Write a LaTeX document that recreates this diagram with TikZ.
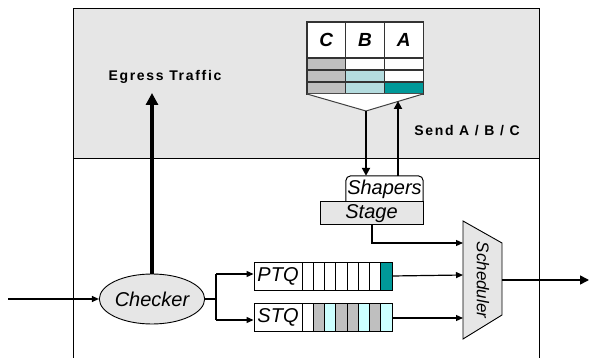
\documentclass[tikz,border=0pt]{standalone}
\usepackage{fontspec}
\setmainfont{Liberation Sans}
\newfontfamily\widefont[LetterSpace=12]{Liberation Sans}
\usetikzlibrary{arrows.meta, shapes.geometric}

\definecolor{bgdot}{HTML}{E6E6E6}
\definecolor{cellgray}{HTML}{BFBFBF}
\definecolor{paleteal}{HTML}{B4DCDF}
\definecolor{qteal}{HTML}{009999}
\definecolor{palecyan}{HTML}{CCFFFF}

\tikzset{
  frame/.style={draw=black, line width=1pt},
  tabline/.style={draw=black!80, line width=1.2pt},
  hdr/.style={tabline, fill=white, minimum width=38.7pt, minimum height=36pt,
    inner sep=0pt, font=\fontsize{19}{19}\selectfont\bfseries\itshape},
  lbl/.style={font=\fontsize{20}{20}\selectfont\itshape, inner sep=0pt},
  bold/.style={font=\fontsize{14}{14}\selectfont\widefont\bfseries, inner sep=0pt},
  qlabel/.style={draw=black, line width=0.9pt, fill=white, minimum width=48pt,
    minimum height=28pt, inner sep=0pt, font=\fontsize{20}{20}\selectfont\itshape},
  qcell/.style={draw=black, line width=0.9pt},
  conn/.style={line width=1.2pt, -{Triangle[length=7pt,width=6pt]}},
  thick conn/.style={line width=2.6pt, -{Triangle[length=8pt,width=8pt]}},
}

\begin{document}
\begin{tikzpicture}[x=1pt,y=-1pt]
\useasboundingbox (0,0) rectangle (590,358);

% enclosing frame: shaded upper part, open lower part
\fill[bgdot] (73,9) rectangle (539,159);
\draw[frame] (73,358) -- (73,9) -- (539,9) -- (539,358);
\draw[frame] (73,159) -- (539,159);

% class table
\node[hdr] (hC) at (326.35,40) {C};
\node[hdr] (hB) at (365.05,40) {B};
\node[hdr] (hA) at (403.75,40) {A};
\foreach \x/\a/\b/\c in {307/cellgray/cellgray/cellgray,
                         345.7/white/paleteal/paleteal,
                         384.4/white/white/qteal}{
  \draw[tabline, fill=\a] (\x,58) rectangle ++(38.7,12);
  \draw[tabline, fill=\b] (\x,70) rectangle ++(38.7,12);
  \draw[tabline, fill=\c] (\x,82) rectangle ++(38.7,12);
}
\coordinate (tl) at (307,94);
\coordinate (tr) at (423,94);
\coordinate (vtip) at (366,111);
\fill[white] (tl) -- (tr) -- (vtip) -- cycle;
\draw[black!75, line width=1pt] (tl) -- (vtip) -- (tr);

% labels
\node[bold] (egress) at (165,77) {Egress Traffic};
\node[bold] (send) at (467,131) {Send A / B / C};

% shapers and stage
\node[draw=none, minimum width=77pt, minimum height=26pt, inner sep=0pt]
  (shapers) at (384.5,189) {};
\filldraw[fill=white, draw=black, line width=1pt, rounded corners=5pt]
  (shapers.south west) |- (shapers.north) -| (shapers.south east);
\node[lbl] at (shapers.center) {Shapers};
\node[draw=black, line width=1pt, fill=bgdot, minimum width=103pt,
  minimum height=23pt, inner sep=0pt, font=\fontsize{20}{20}\selectfont\itshape]
  (stage) at (371.5,213.5) {Stage};

\draw[thick conn] (vtip) -- (vtip |- shapers.north);
\coordinate (up) at (398,101);
\draw[thick conn] (up |- shapers.north) -- (up);

% scheduler
\coordinate (sa) at (463,221);
\coordinate (sb) at (502,243);
\coordinate (sc) at (502,315);
\coordinate (sd) at (463,339);
\filldraw[fill=bgdot, draw=black, line width=0.9pt] (sa) -- (sb) -- (sc) -- (sd) -- cycle;
\node[rotate=-90, inner sep=0pt, font=\fontsize{17}{17}\selectfont\itshape]
  (sched) at (483,280) {Scheduler};
\coordinate (in1) at (463,243);
\coordinate (in2) at (463,275);
\coordinate (in3) at (463,318);
\coordinate (sout) at (502,280);
\coordinate (exit) at (589,280);

% checker
\node[draw=black, line width=0.9pt, fill=bgdot, ellipse, minimum width=86pt,
  minimum height=50pt, inner sep=0pt, font=\fontsize{20}{20}\selectfont\itshape]
  (checker) at (152,299) {Checker};
\coordinate (src) at (8,299);

% queues
\node[qlabel] (ptq) at (278,276) {PTQ};
\node[qlabel] (stq) at (278,317.5) {STQ};
\foreach \i/\c in {0/white,1/white,2/white,3/white,4/white,5/white,6/white,7/qteal}
  \draw[qcell, fill=\c] ({302+11.25*\i},262) rectangle ++(11.25,28);
\foreach \i/\c in {0/white,1/cellgray,2/palecyan,3/cellgray,4/cellgray,5/palecyan,6/cellgray,7/palecyan}
  \draw[qcell, fill=\c] ({302+11.25*\i},303.5) rectangle ++(11.25,28);
\coordinate (ptqend) at (392,276);
\coordinate (stqend) at (392,318);
\coordinate (split) at (216,299);

% connectors
\draw[conn] (src) -- (checker.west);
\draw[line width=4pt, -{Triangle[length=12pt,width=12pt]}] (checker.north) -- (152,93);
\draw[line width=1.2pt] (checker.east) -- (split);
\draw[line width=1.2pt] (216,274) -- (216,320);
\draw[conn] (216,274) -- (ptq.west |- 0,274);
\draw[conn] (216,320) -- (stq.west |- 0,320);
\draw[conn] (ptqend) -- (in2);
\draw[conn] (stqend) -- (in3);
\draw[conn] (stage.south -| 372,0) |- (in1);
\draw[line width=1.6pt, -{Triangle[length=9pt,width=9pt]}] (sout) -- (exit);
\end{tikzpicture}
\end{document}
